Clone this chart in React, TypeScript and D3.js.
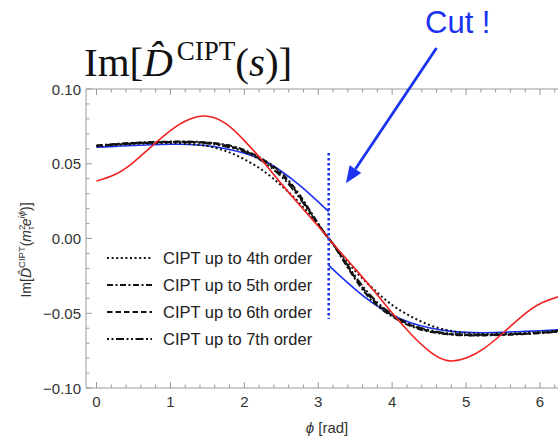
import React from "react";
import * as d3 from "d3";

// phase along the contour s = m_tau^2 e^{i phi}
const phi = [
  0, 0.25, 0.5, 0.75, 1, 1.25, 1.5, 1.75, 2, 2.25, 2.5, 2.75, 3, Math.PI,
  3.25, 3.5, 3.75, 4, 4.25, 4.5, 4.75, 5, 5.25, 5.5, 5.75, 6, 6.25, 2 * Math.PI,
];
const phiBefore = phi.slice(0, 14);
const phiAfter = phi.slice(13);

// red curve
const redValues = [
  0.0385, 0.0428, 0.051, 0.0618, 0.0722, 0.0796, 0.0818, 0.0768, 0.0655, 0.0517, 0.0367, 0.0222, 0.0082, 0.0,
  -0.0063, -0.0203, -0.0348, -0.0499, -0.0637, -0.0753, -0.0817, -0.08, -0.0733, -0.0632, -0.0523, -0.0437, -0.039, -0.0385,
];
// blue curve, split at the cut phi = pi
const blueBefore = [
  0.061, 0.0616, 0.0622, 0.0627, 0.063, 0.0629, 0.062, 0.06, 0.057, 0.0525, 0.045, 0.0355, 0.0245, 0.018,
];
const blueAfter = [
  -0.018, -0.023, -0.034, -0.0436, -0.0512, -0.0564, -0.0597, -0.0618, -0.0628, -0.063, -0.0627, -0.0622, -0.0617, -0.0611, -0.061,
];
// CIPT truncated at successive orders
const cipt4 = [
  0.0615, 0.0625, 0.0632, 0.0637, 0.0638, 0.0633, 0.0618, 0.0585, 0.053, 0.0455, 0.0355, 0.0235, 0.009, 0.0,
  -0.0069, -0.0216, -0.0339, -0.0445, -0.052, -0.0578, -0.0614, -0.0632, -0.0638, -0.0637, -0.0633, -0.0626, -0.0616, -0.0615,
];
const cipt5 = [
  0.0622, 0.0632, 0.064, 0.0645, 0.0648, 0.0648, 0.0643, 0.0627, 0.0592, 0.053, 0.044, 0.029, 0.01, 0.0,
  -0.0076, -0.0272, -0.0427, -0.0522, -0.0586, -0.0623, -0.0641, -0.0648, -0.0648, -0.0645, -0.064, -0.0633, -0.0623, -0.0622,
];
const cipt6 = [
  0.062, 0.063, 0.0638, 0.0643, 0.0646, 0.0646, 0.064, 0.0622, 0.0586, 0.0522, 0.0428, 0.028, 0.0095, 0.0,
  -0.0072, -0.0262, -0.0415, -0.0514, -0.058, -0.0618, -0.0638, -0.0646, -0.0646, -0.0643, -0.0638, -0.0631, -0.0621, -0.062,
];
const cipt7 = [
  0.0618, 0.0628, 0.0636, 0.0641, 0.0644, 0.0643, 0.0636, 0.0616, 0.058, 0.0515, 0.0415, 0.027, 0.0092, 0.0,
  -0.007, -0.0252, -0.0403, -0.0507, -0.0574, -0.0612, -0.0634, -0.0643, -0.0644, -0.0641, -0.0636, -0.0629, -0.0619, -0.0618,
];

const legendLabels = [
  "CIPT up to 4th order",
  "CIPT up to 5th order",
  "CIPT up to 6th order",
  "CIPT up to 7th order",
];
const legendDashes = ["2,2.6", "6,2.5,2,2.5", "5.5,3", "2,2.5,2,2.5,8,2.5"];

const xTicks = [0, 1, 2, 3, 4, 5, 6];
const yTicks = [-0.1, -0.05, 0, 0.05, 0.1];
const yTickLabels = ["\u22120.10", "\u22120.05", "0.00", "0.05", "0.10"];

// annotation anchors in data units
const cutTop = 0.0572;
const cutBottom = -0.0538;
const arrowFrom = { p: 4.6, v: 0.1274 };
const arrowTo = { p: 3.375, v: 0.037 };

const W = 558;
const H = 438;
const FRAME_L = 86;
const FRAME_R = 568;
const FRAME_T = 89;
const FRAME_B = 388;

const RED = "#f02222";
const BLUE = "#1b33f0";
const AXIS = "#9a9a9a";
const LABEL = "#333";
const SANS = "'Liberation Sans', Arial, Helvetica, sans-serif";
const SERIF = "'Liberation Serif', 'Times New Roman', serif";

export default function App() {
  const x = d3.scaleLinear().domain([0, 6]).range([96.5, 540]);
  const y = d3.scaleLinear().domain([-0.1, 0.1]).range([FRAME_B, FRAME_T]);

  const line = d3
    .line<[number, number]>()
    .x((d) => x(d[0]))
    .y((d) => y(d[1]))
    .curve(d3.curveNatural);

  const zip = (ps: number[], vs: number[]) =>
    ps.map((p, i) => [p, vs[i]] as [number, number]);

  const cipt = [cipt4, cipt5, cipt6, cipt7];

  const xMinor = d3.range(1, 33).map((i) => i * 0.2).filter((v) => Math.abs(v - Math.round(v)) > 1e-6);
  const yMinor = d3.range(-10, 11).map((i) => i * 0.01).filter((v) => Math.abs(v * 20 - Math.round(v * 20)) > 1e-6);

  // arrow geometry
  const ax0 = x(arrowFrom.p);
  const ay0 = y(arrowFrom.v);
  const ax1 = x(arrowTo.p);
  const ay1 = y(arrowTo.v);
  const dx = ax1 - ax0;
  const dy = ay1 - ay0;
  const len = Math.hypot(dx, dy);
  const ux = dx / len;
  const uy = dy / len;
  const headL = 17;
  const headW = 7;
  const bx = ax1 - ux * headL;
  const by = ay1 - uy * headL;
  const head = [
    [ax1, ay1],
    [bx - uy * headW, by + ux * headW],
    [bx + uy * headW, by - ux * headW],
  ]
    .map((p) => p.join(","))
    .join(" ");

  const legendY = [258, 285, 312, 339];

  return (
    <svg
      width={W}
      height={H}
      style={{ position: "absolute", left: 0, top: 0, background: "#fff" }}
    >
      <defs>
        <clipPath id="plotArea">
          <rect x={FRAME_L} y={FRAME_T} width={FRAME_R - FRAME_L} height={FRAME_B - FRAME_T} />
        </clipPath>
      </defs>

      {/* title */}
      <text x={84} y={76} fontFamily={SERIF} fontSize={41} fill="#111">
        <tspan>Im[</tspan>
        <tspan fontStyle="italic">{"D\u0302"}</tspan>
        <tspan dx={4} dy={-16} fontSize={27}>CIPT</tspan>
        <tspan dy={16}>(</tspan>
        <tspan fontStyle="italic">s</tspan>
        <tspan>)]</tspan>
      </text>

      {/* frame */}
      <g stroke={AXIS} strokeWidth={1} fill="none">
        <line x1={FRAME_L} x2={FRAME_L} y1={FRAME_T} y2={FRAME_B} />
        <line x1={FRAME_L} x2={FRAME_R} y1={FRAME_B} y2={FRAME_B} />
        <line x1={FRAME_L} x2={FRAME_R} y1={FRAME_T} y2={FRAME_T} />
        {xTicks.map((t) => (
          <g key={"xt" + t}>
            <line x1={x(t)} x2={x(t)} y1={FRAME_B} y2={FRAME_B - 6} />
            <line x1={x(t)} x2={x(t)} y1={FRAME_T} y2={FRAME_T + 6} />
          </g>
        ))}
        {xMinor.map((t) => (
          <g key={"xm" + t}>
            <line x1={x(t)} x2={x(t)} y1={FRAME_B} y2={FRAME_B - 3.5} />
            <line x1={x(t)} x2={x(t)} y1={FRAME_T} y2={FRAME_T + 3.5} />
          </g>
        ))}
        {yTicks.map((t) => (
          <line key={"yt" + t} x1={FRAME_L} x2={FRAME_L + 6} y1={y(t)} y2={y(t)} />
        ))}
        {yMinor.map((t) => (
          <line key={"ym" + t} x1={FRAME_L} x2={FRAME_L + 3.5} y1={y(t)} y2={y(t)} />
        ))}
      </g>

      {/* tick labels */}
      <g fontFamily={SANS} fontSize={15} fill={LABEL}>
        {yTicks.map((t, i) => (
          <text key={"yl" + t} x={81} y={y(t)} textAnchor="end" dominantBaseline="central">
            {yTickLabels[i]}
          </text>
        ))}
        {xTicks.map((t) => (
          <text key={"xl" + t} x={x(t)} y={407} textAnchor="middle">
            {String(t)}
          </text>
        ))}
      </g>

      {/* axis labels */}
      <text x={327} y={433} textAnchor="middle" fontFamily={SANS} fontSize={15} fill={LABEL}>
        <tspan fontStyle="italic">{"\u03d5"}</tspan>
        <tspan>{" [rad]"}</tspan>
      </text>
      <text
        transform="translate(31,250) rotate(-90)"
        textAnchor="middle"
        fontFamily={SANS}
        fontSize={14}
        fill={LABEL}
      >
        <tspan>Im[</tspan>
        <tspan fontStyle="italic">{"D\u0302"}</tspan>
        <tspan fontSize={9.5} dy={-6}>CIPT</tspan>
        <tspan dy={6}>(</tspan>
        <tspan fontStyle="italic">m</tspan>
        <tspan fontSize={9.5} dy={-6}>2</tspan>
        <tspan fontSize={9.5} dx={-5.3} dy={9}>{"\u03c4"}</tspan>
        <tspan fontStyle="italic" dy={-3}>e</tspan>
        <tspan fontSize={9.5} fontStyle="italic" dy={-6}>{"i\u03d5"}</tspan>
        <tspan dy={6}>)]</tspan>
      </text>

      {/* curves */}
      <g clipPath="url(#plotArea)" fill="none">
        <path d={line(zip(phiBefore, blueBefore)) || ""} stroke={BLUE} strokeWidth={1.6} />
        <path d={line(zip(phiAfter, blueAfter)) || ""} stroke={BLUE} strokeWidth={1.6} />
        {cipt.map((vals, i) => (
          <path
            key={"c" + i}
            d={line(zip(phi, vals)) || ""}
            stroke="#111"
            strokeWidth={2}
            strokeDasharray={legendDashes[i]}
          />
        ))}
        <path d={line(zip(phi, redValues)) || ""} stroke={RED} strokeWidth={1.6} />
      </g>

      {/* legend */}
      <g fontFamily={SANS} fontSize={16.5} fill="#222">
        {legendLabels.map((lab, i) => (
          <g key={lab}>
            <line
              x1={107}
              x2={152}
              y1={legendY[i]}
              y2={legendY[i]}
              stroke="#111"
              strokeWidth={1.9}
              strokeDasharray={legendDashes[i]}
            />
            <text x={163} y={legendY[i]} dominantBaseline="central">
              {lab}
            </text>
          </g>
        ))}
      </g>

      {/* branch cut marker and note */}
      <line
        x1={x(Math.PI)}
        x2={x(Math.PI)}
        y1={y(cutTop)}
        y2={y(cutBottom)}
        stroke={BLUE}
        strokeWidth={2.6}
        strokeDasharray="2.5,2.5"
      />
      <line x1={ax0} y1={ay0} x2={bx} y2={by} stroke={BLUE} strokeWidth={2.8} />
      <polygon points={head} fill={BLUE} />
      <text x={425} y={33} fontFamily={SANS} fontSize={31} fill={BLUE}>
        Cut !
      </text>
    </svg>
  );
}
